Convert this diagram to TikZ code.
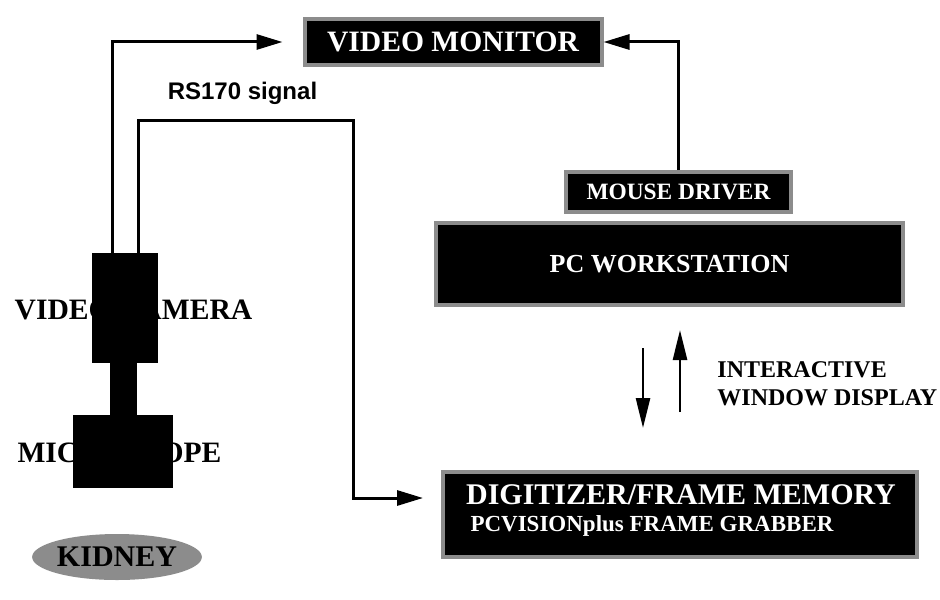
\documentclass[tikz,border=0pt]{standalone}
\usepackage{fontspec}
\setmainfont{Liberation Serif}
\setsansfont{Liberation Sans}
\usetikzlibrary{arrows.meta, positioning, shapes.geometric, calc}

\begin{document}
\begin{tikzpicture}[
    x=0.5pt, y=-0.5pt,
    every node/.style={font=\bfseries, inner sep=0pt},
    box/.style={draw=black!45, line width=2pt, fill=black, text=white},
    part/.style={fill=black},
    arr/.style={-{Triangle[length=13pt,width=7.5pt]}, line width=1.5pt},
    smallarr/.style={-{Triangle[length=15pt,width=7pt]}, line width=1.3pt}
]
\useasboundingbox (0,0) rectangle (940,599);
% Camera and microscope
\node[font=\bfseries\fontsize{14.8}{17}\selectfont] (camlabel) at (133.5,310) {VIDEO CAMERA};
\node[part, minimum width=33pt, minimum height=55pt] (cam) at (125,308) {};
\node[part, minimum width=13.5pt, minimum height=27pt] (neck) at (123.5,389) {};
\node[part, minimum width=50pt, minimum height=36.5pt] (scope) at (123,451.5) {};
\node[font=\bfseries\fontsize{14.8}{17}\selectfont] (scopelabel) at (119.5,453) {MICROSCOPE};
% Kidney
\node[ellipse, fill=black!45, minimum width=73pt, minimum height=23pt,
      font=\bfseries\fontsize{15}{17}\selectfont] (kidney) at (117,557) {KIDNEY};
% Monitor and workstation
\node[box, minimum width=148.5pt, minimum height=23pt,
      font=\bfseries\fontsize{14.8}{17}\selectfont] (mon) at (453,42) {VIDEO MONITOR};
\node[box, minimum width=112.5pt, minimum height=20pt,
      font=\bfseries\fontsize{11.7}{14}\selectfont] (mouse) at (678.5,192) {MOUSE DRIVER};
\node[box, minimum width=233.5pt, minimum height=41pt,
      font=\bfseries\fontsize{13}{15}\selectfont] (pc) at (669.5,264) {PC WORKSTATION};
% Digitizer
\node[box, minimum width=237pt, minimum height=42.5pt] (dig) at (680,514) {};
\node[text=white, font=\bfseries\fontsize{15}{17}\selectfont] (digtop) at (681,495) {DIGITIZER/FRAME MEMORY};
\node[text=white, font=\bfseries\fontsize{11.5}{13}\selectfont] (digbot) at (652,526) {PCVISIONplus FRAME GRABBER};
% Connectors
\coordinate (rsbend) at (353,120);
\coordinate (rsend) at ([xshift=-9pt, yshift=8pt]dig.west);
\draw[arr] ([xshift=-6.5pt]cam.north) |- ([xshift=-10pt]mon.west);
\draw[arr] ([xshift=6.5pt]cam.north) |- (rsbend) |- (rsend);
\node[font=\sffamily\bfseries\fontsize{12}{14}\selectfont] (rslabel) at (242.5,93) {RS170 signal};
\draw[arr] (mouse.north) |- (mon.east);
% Interactive window display
\coordinate (dntop) at (643,348);
\coordinate (dnbot) at (643,428);
\coordinate (uptop) at (680,330);
\coordinate (upbot) at (680,412);
\draw[smallarr] (dntop) -- (dnbot);
\draw[smallarr] (upbot) -- (uptop);
\node[anchor=west, align=left, font=\bfseries\fontsize{12}{14}\selectfont] (iwd) at (717,384)
  {INTERACTIVE\\WINDOW DISPLAY};
\end{tikzpicture}
\end{document}
